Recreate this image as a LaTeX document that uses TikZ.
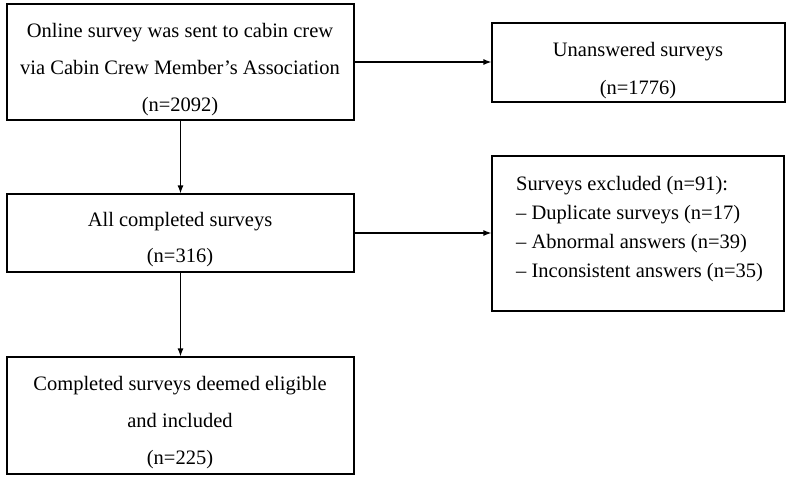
\documentclass[tikz,border=0pt]{standalone}
\usepackage{fontspec}
\setmainfont{Liberation Serif}
\usetikzlibrary{arrows.meta}
\begin{document}
\begin{tikzpicture}[x=1pt,y=-1pt,
  boxrect/.style={draw=black,line width=1.2pt,inner sep=0pt},
  txt/.style={anchor=base,inner sep=0pt,font=\fontsize{20.5}{24}\selectfont},
  ltxt/.style={anchor=base west,inner sep=0pt,font=\fontsize{20.5}{24}\selectfont},
  conn/.style={draw=black,line width=1.2pt,-{Latex[length=8pt,width=6pt]}}]
\useasboundingbox (0,0) rectangle (790,477);
% boxes
\node[boxrect,minimum width=347pt,minimum height=116pt] (b1) at (180.5,62) {};
\node[boxrect,minimum width=293pt,minimum height=79pt] (b2) at (638.5,62.5) {};
\node[boxrect,minimum width=347pt,minimum height=78pt] (b3) at (180.5,233) {};
\node[boxrect,minimum width=292pt,minimum height=155pt] (b4) at (638,233.5) {};
\node[boxrect,minimum width=347pt,minimum height=117pt] (b5) at (180.5,415.5) {};
% texts
\node[txt] (t1a) at (180,37.3) {Online survey was sent to cabin crew};
\node[txt] (t1b) at (180,74.5) {via Cabin Crew Member’s Association};
\node[txt] (t1c) at (180,111.7) {(n=2092)};
\node[txt] (t2a) at (638,56.7) {Unanswered surveys};
\node[txt] (t2b) at (638,94.3) {(n=1776)};
\node[txt] (t3a) at (180,226.7) {All completed surveys};
\node[txt] (t3b) at (180,262.7) {(n=316)};
\node[ltxt] (t4a) at (516,190) {Surveys excluded (n=91):};
\node[ltxt] (t4b) at (516,219.3) {– Duplicate surveys (n=17)};
\node[ltxt] (t4c) at (516,248.6) {– Abnormal answers (n=39)};
\node[ltxt] (t4d) at (516,277.9) {– Inconsistent answers (n=35)};
\node[txt] (t5a) at (180,390.7) {Completed surveys deemed eligible};
\node[txt] (t5b) at (180,427.4) {and included};
\node[txt] (t5c) at (180,464.1) {(n=225)};
% connectors
\draw[conn] (b1.east) -- (b2.west |- b1.east);
\draw[conn] (b3.east) -- (b4.west |- b3.east);
\draw[conn] (b1.south) -- (b3.north);
\draw[conn] (b3.south) -- (b5.north);
\end{tikzpicture}
\end{document}
